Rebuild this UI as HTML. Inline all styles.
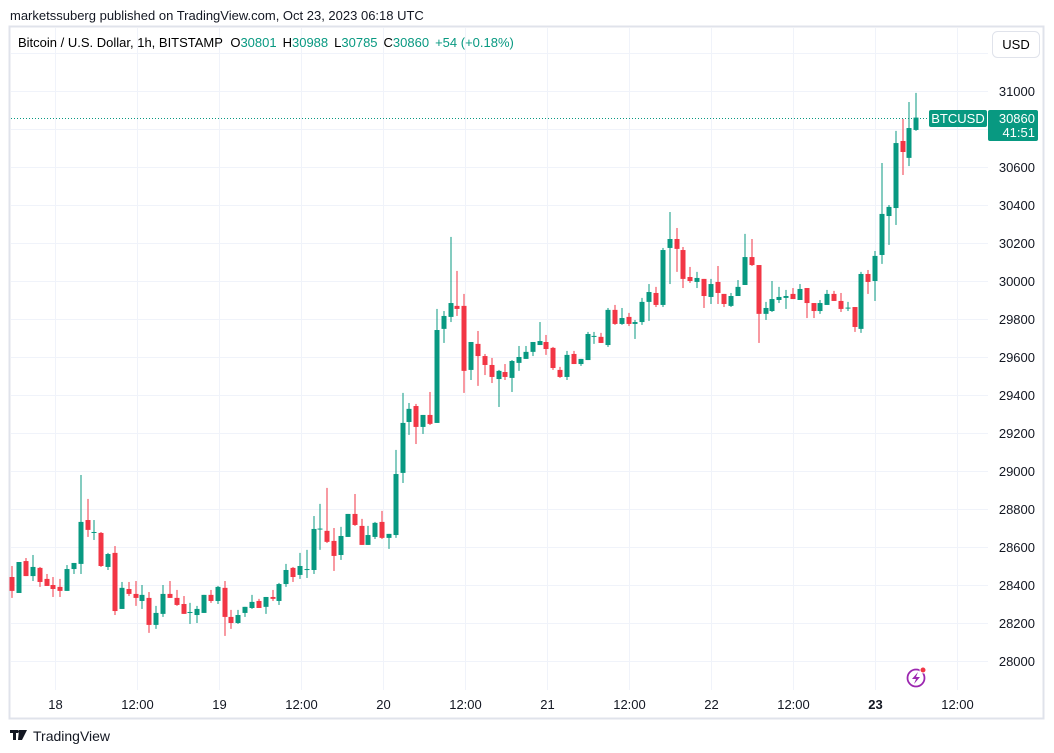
<!DOCTYPE html>
<html><head><meta charset="utf-8"><style>
body{margin:0;background:#fff;font-family:"Liberation Sans",sans-serif;color:#131722}
#w{position:relative;width:1054px;height:753px;overflow:hidden}
</style></head><body><div id="w">
<svg id="s" width="1054" height="753" xmlns="http://www.w3.org/2000/svg">
<text x="10" y="20" font-size="13" fill="#131722">marketssuberg published on TradingView.com, Oct 23, 2023 06:18 UTC</text>
<rect x="9.5" y="26.5" width="1034" height="692" fill="none" stroke="#e0e3eb" stroke-width="2"/>
<g id="grid"></g>
<g id="candles"></g>
<g id="axes"></g>
<text x="18" y="47" font-size="13">Bitcoin / U.S. Dollar, 1h, BITSTAMP <tspan dx="4">O</tspan><tspan fill="#089981">30801</tspan><tspan dx="6">H</tspan><tspan fill="#089981">30988</tspan><tspan dx="6">L</tspan><tspan fill="#089981">30785</tspan><tspan dx="6">C</tspan><tspan fill="#089981">30860</tspan><tspan dx="6" fill="#089981">+54 (+0.18%)</tspan></text>
<rect x="992.5" y="31.5" width="47" height="26" rx="5" fill="#fff" stroke="#e0e3eb"/>
<text x="1016" y="49" font-size="13" text-anchor="middle">USD</text>
<g>
<rect x="10" y="730" width="8" height="3" fill="#131722"/><rect x="13" y="730" width="3" height="10" fill="#131722"/>
<polygon points="19,730 27,730 22,740 18,740" fill="#131722"/><circle cx="19.5" cy="731.5" r="1.5" fill="#131722"/>
<text x="33" y="741" font-size="14" fill="#131722">TradingView</text></g>
<g>
<circle cx="916" cy="678" r="8.5" fill="none" stroke="#9c27b0" stroke-width="1.8"/>
<polygon points="918,672 912,679 916,679 914,684 920,677 916,677" fill="#9c27b0"/>
<circle cx="923" cy="670" r="3" fill="#f23645" stroke="#fff" stroke-width="1"/></g>
</svg>
<script>
const opens=[28442,28358,28526,28447,28490,28432,28400,28390,28369,28484,28511,28742,28679,28674,28495,28569,28274,28379,28353,28316,28332,28190,28248,28353,28332,28300,28253,28242,28253,28348,28316,28385,28232,28200,28253,28279,28316,28285,28337,28316,28405,28490,28453,28484,28479,28695,28685,28632,28558,28653,28774,28711,28611,28653,28732,28648,28663,28990,29258,29342,29232,29295,29253,29748,29811,29869,29869,29532,29669,29605,29558,29484,29521,29490,29569,29590,29627,29663,29679,29648,29532,29495,29616,29563,29584,29711,29706,29663,29848,29774,29811,29774,29784,29890,29937,29874,30174,30221,30163,30021,29995,30011,29916,29995,29932,29869,29921,29979,30126,30084,29827,29842,29900,29911,29932,29900,29963,29884,29842,29874,29932,29895,29858,29863,29748,30037,30000,30137,30342,30384,30737,30648,30795];
const highs=[28500,28521,28542,28558,28495,28458,28442,28432,28505,28516,28979,28853,28742,28679,28569,28605,28416,28416,28421,28400,28363,28290,28400,28421,28374,28342,28306,28290,28348,28374,28395,28421,28269,28269,28285,28348,28327,28337,28374,28411,28511,28495,28569,28585,28763,28827,28911,28700,28706,28774,28879,28748,28711,28732,28790,28669,29111,29411,29358,29353,29295,29416,29853,29842,30232,30053,29932,29679,29737,29616,29595,29532,29563,29584,29658,29658,29679,29784,29716,29653,29548,29632,29632,29590,29732,29732,29727,29858,29874,29858,29832,29795,29911,29984,29969,30174,30363,30279,30179,30074,30048,30011,30011,30079,29932,29937,30005,30248,30221,30084,29890,30000,29969,29953,29963,29984,29963,29884,29900,29953,29948,29937,29890,29863,30048,30058,30158,30621,30400,30790,30853,30942,30990];
const lows=[28332,28358,28447,28421,28390,28395,28337,28337,28369,28458,28458,28653,28637,28495,28479,28242,28274,28342,28290,28274,28148,28169,28232,28332,28290,28248,28195,28200,28253,28306,28300,28132,28169,28195,28232,28274,28279,28248,28316,28295,28390,28416,28432,28437,28458,28585,28621,28474,28532,28653,28711,28611,28611,28642,28642,28590,28648,28937,29190,29142,29195,29242,29253,29674,29784,29816,29411,29479,29448,29505,29463,29337,29479,29416,29527,29590,29605,29663,29611,29532,29490,29479,29563,29553,29584,29669,29674,29653,29769,29769,29763,29695,29769,29790,29863,29863,29984,30048,29963,29990,29963,29858,29879,29879,29863,29863,29921,29979,30079,29674,29795,29837,29884,29853,29905,29900,29805,29805,29827,29874,29895,29837,29842,29732,29727,29932,29895,30090,30190,30295,30558,30605,30790];
const closes=[28369,28521,28447,28495,28416,28395,28379,28369,28484,28516,28732,28690,28679,28500,28563,28263,28385,28353,28332,28348,28190,28253,28353,28332,28295,28248,28258,28274,28348,28316,28390,28232,28200,28242,28285,28311,28279,28337,28327,28405,28479,28442,28500,28484,28695,28697,28627,28553,28658,28774,28716,28611,28663,28727,28648,28669,28984,29253,29327,29232,29295,29248,29742,29816,29884,29853,29527,29679,29605,29558,29495,29527,29495,29579,29600,29627,29679,29684,29642,29542,29495,29611,29563,29590,29721,29711,29674,29848,29774,29805,29774,29784,29890,29942,29874,30163,30221,30169,30011,30000,30016,29921,29984,29937,29879,29921,29969,30126,30084,29827,29858,29905,29916,29921,29905,29958,29884,29842,29884,29932,29895,29853,29860,29758,30037,29995,30132,30353,30390,30726,30679,30805,30860];
const priceTicks=[28000,28200,28400,28600,28800,29000,29200,29400,29600,29800,30000,30200,30400,30600,30800,31000,31200];
const timeTicks=["18","12:00","19","12:00","20","12:00","21","12:00","22","12:00","23","12:00"];
const timeTickHours=[6,18,30,42,54,66,78,90,102,114,126,138];
const lastPrice=30860;

const NS="http://www.w3.org/2000/svg";
const yOf=p=>91+(31000-p)*0.19;
const xOf=i=>12.3+i*6.848;
const tOf=h=>55+(h-6)*6.833;
function mk(tag,attrs,parent){const e=document.createElementNS(NS,tag);for(const k in attrs)e.setAttribute(k,attrs[k]);parent.appendChild(e);return e;}
const grid=document.getElementById('grid'),cg=document.getElementById('candles'),ax=document.getElementById('axes');
priceTicks.forEach(p=>{const y=Math.round(yOf(p))+0.5;if(y<28||y>690)return;
 const l=mk('line',{x1:11,x2:988,y1:y,y2:y,stroke:'#f0f3fa','stroke-width':1},grid);
 
 
 if(p<31200){const t=mk('text',{x:1035,y:y+4.5,'font-size':13,'text-anchor':'end',fill:'#131722'},ax);t.textContent=p;
 
 }
});
timeTicks.forEach((lab,k)=>{const x=Math.round(tOf(timeTickHours[k]))+0.5;
 const l=mk('line',{x1:x,x2:x,y1:28,y2:690,stroke:'#f0f3fa','stroke-width':1},grid);
 
 
 const t=mk('text',{x:x,y:709,'font-size':13,'text-anchor':'middle',fill:'#131722','font-weight':lab==="23"?'bold':'normal'},ax);t.textContent=lab;
 
 
});
opens.forEach((o,i)=>{const c=closes[i],h=highs[i],lo=lows[i];const col=c>=o?'#089981':'#f23645';const x=Math.round(xOf(i));
 const g=mk('g',{},cg);
 
 
 mk('rect',{x:x-0.5,y:yOf(h),width:1,height:Math.max(0.5,yOf(lo)-yOf(h)),fill:col},g);
 const top=yOf(Math.max(o,c)),bh=Math.max(1,yOf(Math.min(o,c))-top);
 mk('rect',{x:x-2.5,y:top,width:5,height:bh,fill:col},g);
});
const ly=Math.round(yOf(lastPrice))+0.5;
const dl=mk('line',{x1:11,x2:929,y1:ly,y2:ly,stroke:'#089981','stroke-width':1,'stroke-dasharray':'1,2'},ax);


const sb=mk('rect',{x:929,y:ly-8.5,width:58,height:17,rx:2,fill:'#089981'},ax);


const st=mk('text',{x:958,y:ly+4.5,'font-size':13,'text-anchor':'middle',fill:'#fff'},ax);st.textContent='BTCUSD';


const pb=mk('rect',{x:988,y:ly-8.5,width:50,height:31,rx:2,fill:'#089981'},ax);


const pt=mk('text',{x:1035,y:ly+4.5,'font-size':13,'text-anchor':'end',fill:'#fff'},ax);pt.textContent=lastPrice;


const ct=mk('text',{x:1035,y:ly+18.5,'font-size':13,'text-anchor':'end',fill:'#fff'},ax);ct.textContent='41:51';


</script></div></body></html>
